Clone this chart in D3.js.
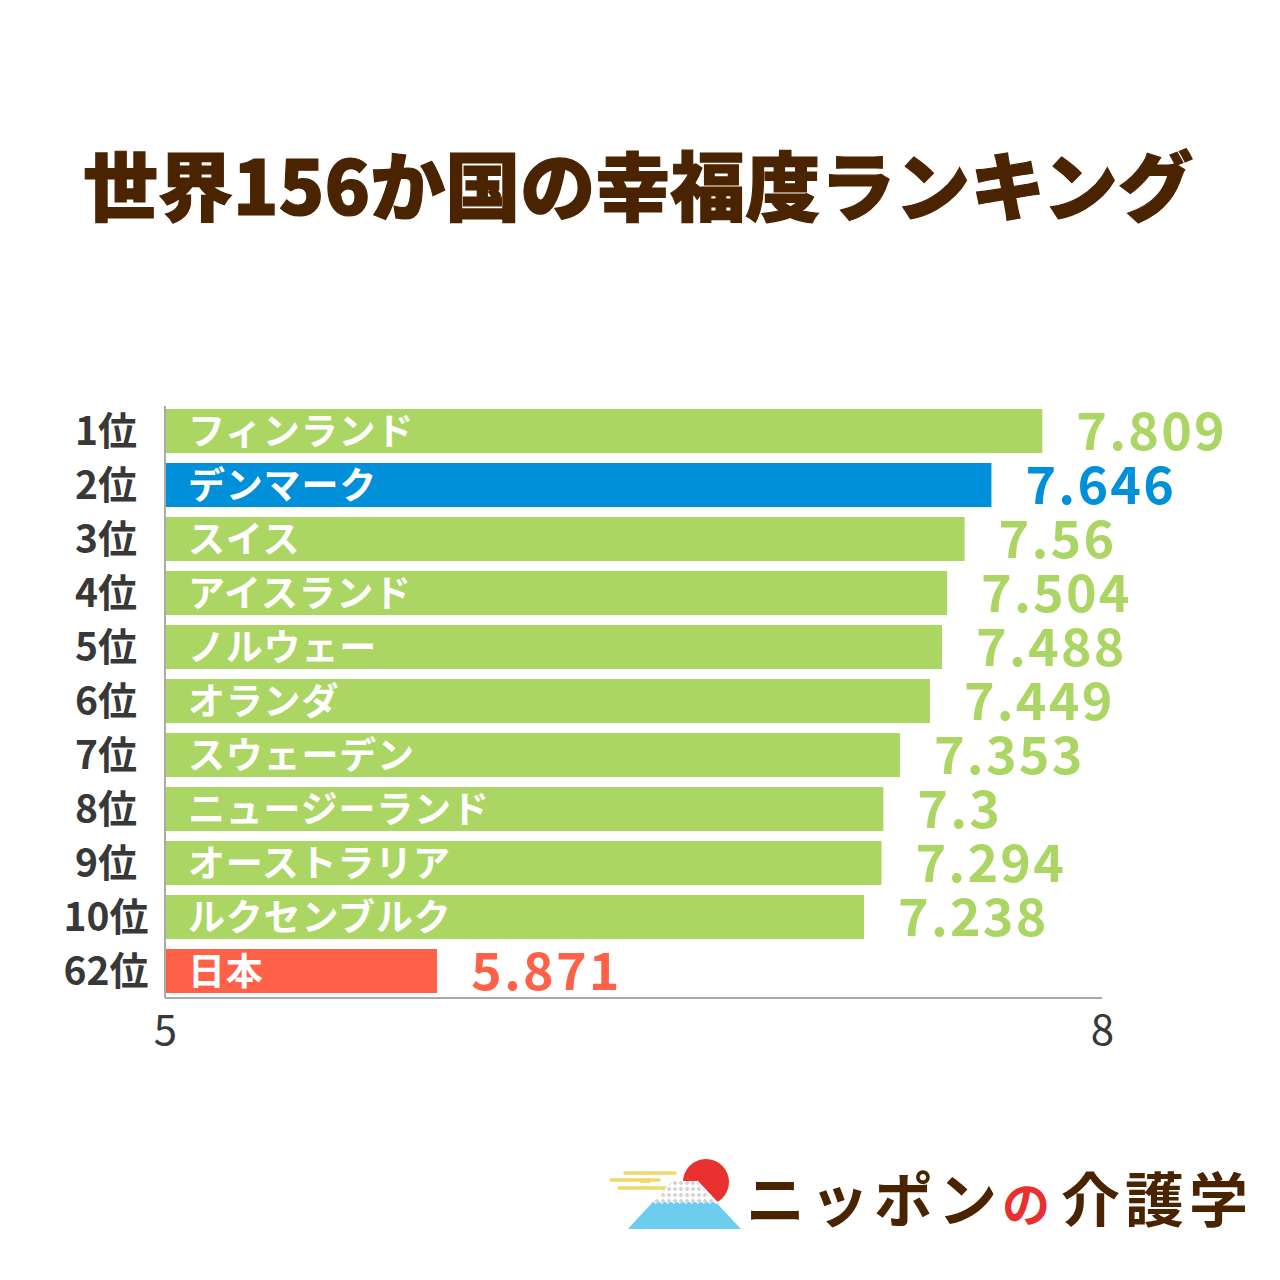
<!DOCTYPE html>
<html>
<head>
<meta charset="utf-8">
<script src="https://cdn.jsdelivr.net/npm/d3@7"></script>
<style>
  html, body { margin: 0; padding: 0; background: #ffffff; }
  svg { display: block; }
</style>
</head>
<body>
<svg id="chart" width="1280" height="1280"></svg>
<script>
// ---- data ----
const ranks = ["1位", "2位", "3位", "4位", "5位", "6位", "7位", "8位", "9位", "10位", "62位"];
const countries = ["フィンランド", "デンマーク", "スイス", "アイスランド", "ノルウェー", "オランダ", "スウェーデン", "ニュージーランド", "オーストラリア", "ルクセンブルク", "日本"];
const scores = [7.809, 7.646, 7.56, 7.504, 7.488, 7.449, 7.353, 7.3, 7.294, 7.238, 5.871];
const valueLabels = ["7.809", "7.646", "7.56", "7.504", "7.488", "7.449", "7.353", "7.3", "7.294", "7.238", "5.871"];
const xDomain = [5, 8];
const xTicks = [5, 8];
const title = "世界156か国の幸福度ランキング";
const logoText = ["ニッポン", "の", "介護学"];

// ---- styles ----
const GREEN = "#abd663", BLUE = "#0090da", RED = "#ff6148", BROWN = "#4a2300", DARK = "#383838";
const colorFor = (i) => countries[i] === "デンマーク" ? BLUE : (countries[i] === "日本" ? RED : GREEN);
const FONT = "'Noto Sans CJK JP', 'Noto Sans', sans-serif";

const svg = d3.select("#chart");
svg.append("rect").attr("width", 1280).attr("height", 1280).attr("fill", "#fff");

// title
svg.append("text")
  .attr("x", 638).attr("y", 215)
  .attr("text-anchor", "middle")
  .attr("font-family", FONT).attr("font-weight", 900).attr("font-size", 75)
  .attr("fill", BROWN)
  .attr("stroke", BROWN).attr("stroke-width", 1.2)
  .text(title);

// scales
const x = d3.scaleLinear().domain(xDomain).range([165, 1102]);
const y = d3.scaleBand().domain(d3.range(ranks.length)).range([404, 998])
  .paddingInner(0.185).paddingOuter(0.0925);

const idx = d3.range(ranks.length);

// bars
svg.append("g").selectAll("rect").data(idx).join("rect")
  .attr("x", x(xDomain[0]))
  .attr("y", i => y(i))
  .attr("width", i => x(scores[i]) - x(xDomain[0]))
  .attr("height", y.bandwidth())
  .attr("fill", i => colorFor(i));

// country names inside bars
svg.append("g").selectAll("text").data(idx).join("text")
  .attr("x", x(xDomain[0]) + 23)
  .attr("y", i => y(i) + y.bandwidth() / 2 + 14)
  .attr("font-family", FONT).attr("font-weight", 700).attr("font-size", 37)
  .attr("letter-spacing", 0.8)
  .attr("fill", "#fff")
  .text(i => countries[i]);

// value labels
svg.append("g").selectAll("text").data(idx).join("text")
  .attr("x", i => x(scores[i]) + 34)
  .attr("y", i => y(i) + y.bandwidth() / 2 + 19)
  .attr("font-family", FONT).attr("font-weight", 700).attr("font-size", 52)
  .attr("letter-spacing", 2.2)
  .attr("fill", i => colorFor(i))
  .text(i => valueLabels[i]);

// rank labels
svg.append("g").selectAll("text").data(idx).join("text")
  .attr("x", 106)
  .attr("y", i => y(i) + y.bandwidth() / 2 + 14)
  .attr("text-anchor", "middle")
  .attr("font-family", FONT).attr("font-weight", 700).attr("font-size", 39)
  .attr("fill", DARK)
  .text(i => ranks[i]);

// axes lines
svg.append("line")
  .attr("x1", x(xDomain[0])).attr("x2", x(xDomain[0]))
  .attr("y1", 406).attr("y2", 998)
  .attr("stroke", "#aaaaaa").attr("stroke-width", 2);
svg.append("line")
  .attr("x1", x(xDomain[0])).attr("x2", x(xDomain[1]))
  .attr("y1", 998).attr("y2", 998)
  .attr("stroke", "#aaaaaa").attr("stroke-width", 2);

// x tick labels
const xAxis = d3.axisBottom(x).tickValues(xTicks).tickSize(0).tickFormat(d3.format("d"));
const gx = svg.append("g").attr("transform", "translate(0,1008)").call(xAxis);
gx.select(".domain").remove();
gx.selectAll("text")
  .attr("font-family", FONT).attr("font-weight", 400).attr("font-size", 42)
  .attr("fill", DARK).attr("dy", "0.8em");

// ---- logo ----
const logo = svg.append("g");
const defs = svg.append("defs");
const pat = defs.append("pattern").attr("id", "dots").attr("patternUnits", "userSpaceOnUse")
  .attr("width", 6).attr("height", 6).attr("x", 0).attr("y", 1180);
pat.append("rect").attr("width", 6).attr("height", 6).attr("fill", "#fff");
pat.append("path").attr("d", "M3,0.5 L5.5,3 L3,5.5 L0.5,3 Z").attr("fill", "#d4d4d4");
const clip = defs.append("clipPath").attr("id", "mtn");
clip.append("path").attr("d", "M672,1181 L697,1181 L742,1229 L628,1229 Z");

// yellow clouds
[[625, 675, 1173], [611, 659, 1180], [619, 672, 1188]].forEach(([a, b, yy]) => {
  logo.append("line").attr("x1", a).attr("x2", b).attr("y1", yy).attr("y2", yy)
    .attr("stroke", "#f0d96a").attr("stroke-width", 3.5).attr("stroke-linecap", "round");
});
logo.append("rect").attr("x", 640).attr("y", 1173).attr("width", 10).attr("height", 15).attr("fill", "#f0d96a");
logo.append("line").attr("x1", 636).attr("x2", 654).attr("y1", 1176.5).attr("y2", 1176.5).attr("stroke", "#fff").attr("stroke-width", 3.2);
logo.append("line").attr("x1", 636).attr("x2", 654).attr("y1", 1184.5).attr("y2", 1184.5).attr("stroke", "#fff").attr("stroke-width", 3.2);
// sun
logo.append("circle").attr("cx", 706).attr("cy", 1182).attr("r", 23).attr("fill", "#e8312f");
// mountain
const mg = logo.append("g").attr("clip-path", "url(#mtn)");
mg.append("rect").attr("x", 620).attr("y", 1178).attr("width", 130).attr("height", 60).attr("fill", "url(#dots)");
let wave = "M620,1204";
for (let xx = 620; xx <= 750; xx += 6) wave += ` Q${xx + 3},${1200} ${xx + 6},1204`;
wave += " L750,1235 L620,1235 Z";
mg.append("path").attr("d", wave).attr("fill", "#6dcdee");
logo.append("path").attr("d", "M697,1181 L742,1229").attr("stroke", "#fff").attr("stroke-width", 1.5);

// logo text
const lt = logo.append("text").attr("x", 746).attr("y", 1222)
  .attr("font-family", FONT).attr("font-weight", 700).attr("font-size", 59)
  .attr("letter-spacing", 5).attr("fill", BROWN);
lt.append("tspan").text(logoText[0]);
lt.append("tspan").attr("fill", "#e8312f").attr("font-size", 48).text(logoText[1]);
lt.append("tspan").attr("dx", 6).text(logoText[2]);
</script>
</body>
</html>
